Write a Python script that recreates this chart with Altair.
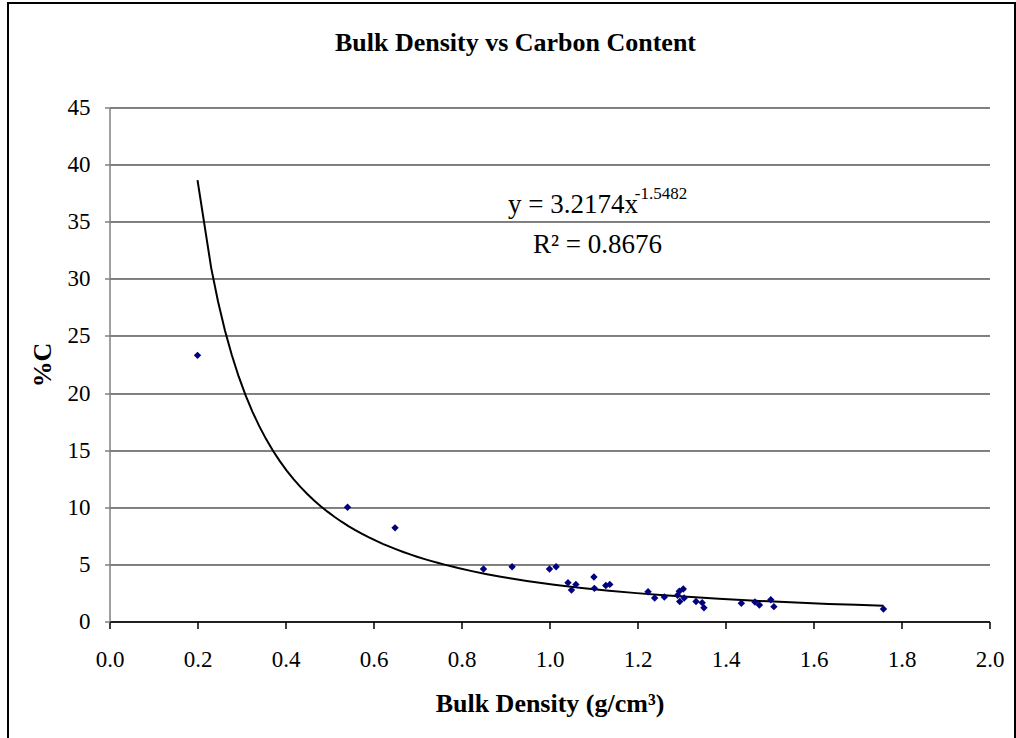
import altair as alt
import pandas as pd

# Data
bulk_density = [0.200, 0.541, 0.649, 0.850, 0.915, 1.000, 1.015, 1.042, 1.050, 1.060,
                1.101, 1.102, 1.128, 1.137, 1.224, 1.239, 1.261, 1.291, 1.295, 1.304,
                1.296, 1.306, 1.333, 1.347, 1.351, 1.436, 1.467, 1.477, 1.503, 1.510,
                1.759]
carbon_pct = [23.3, 10.0, 8.2, 4.6, 4.8, 4.6, 4.8, 3.4, 2.75, 3.25,
              3.9, 2.9, 3.15, 3.25, 2.6, 2.05, 2.15, 2.3, 2.65, 2.85,
              1.75, 2.05, 1.75, 1.65, 1.2, 1.6, 1.7, 1.45, 1.9, 1.3,
              1.1]

# Trendline annotation (text and anchor in data units)
ann_text = ["y = 3.2174x", "-1.5482", "R\u00b2 = 0.8676"]
ann_x = [0.9057, 1.194, 0.9625]
ann_y = [35.79, 36.99, 32.29]
ann_size = [27, 17, 27]

FONT = "Liberation Serif"

df = pd.DataFrame({"bd": bulk_density, "c": carbon_pct})
ann = pd.DataFrame({"t": ann_text, "x": ann_x, "y": ann_y, "s": ann_size})

xs = alt.Scale(domain=[0, 2.0], nice=False, zero=False)
ys = alt.Scale(domain=[0, 45], nice=False)

x_axis = alt.Axis(values=[round(i * 0.2, 1) for i in range(11)], format=".1f",
                  grid=False, tickSize=7, labelPadding=20, domainColor="black",
                  tickColor="black", labelFlush=False,
                  title="Bulk Density (g/cm\u00b3)", titleY=90,
                  titleBaseline="alphabetic")
y_axis = alt.Axis(values=list(range(0, 50, 5)), format="d", grid=True,
                  gridColor="#000000", gridWidth=1, tickSize=5, labelPadding=14.5,
                  domainColor="#808080", tickColor="#808080",
                  title="%C", titleAngle=-90, titleX=-59.5,
                  titleBaseline="alphabetic")

base = alt.Chart(df)

points = base.mark_point(shape="diamond", filled=True, color="#000080", size=55,
                         opacity=1).encode(
    x=alt.X("bd:Q", scale=xs, axis=x_axis),
    y=alt.Y("c:Q", scale=ys, axis=y_axis),
)

trend = base.transform_regression("bd", "c", method="pow").mark_line(
    color="black", strokeWidth=2).encode(
    x=alt.X("bd:Q", scale=xs),
    y=alt.Y("c:Q", scale=ys),
)

labels = alt.Chart(ann).mark_text(align="left", baseline="alphabetic", font=FONT,
                                  color="black").encode(
    x=alt.X("x:Q", scale=xs),
    y=alt.Y("y:Q", scale=ys),
    text="t:N",
    size=alt.Size("s:Q", scale=None, legend=None),
)

frame = alt.Chart(pd.DataFrame({"k": [0]})).mark_rect(
    fillOpacity=0, stroke="black", strokeWidth=2).encode(
    x=alt.value(-101.5), x2=alt.value(905.5), y=alt.value(-104.5), y2=alt.value(640))

chart = alt.layer(frame, trend, points, labels).properties(
    width=880, height=514,
    title=alt.Title("Bulk Density vs Carbon Content", font=FONT, fontSize=26,
                    fontWeight="bold", anchor="middle", frame="group", dx=-34,
                    baseline="alphabetic", offset=0, dy=75.4),
    autosize=alt.AutoSizeParams(type="none"),
    padding={"left": 109.5, "top": 107.5, "right": 26.5, "bottom": 116.3},
    background="white",
).configure_view(stroke=None).configure_axis(
    labelFont=FONT, labelFontSize=23, labelColor="black",
    titleFont=FONT, titleFontSize=26, titleFontWeight="bold", titleColor="black",
    domainWidth=1.5, tickWidth=1.5,
)

chart.save("out.html", embed_options={"renderer": "svg", "actions": False})
